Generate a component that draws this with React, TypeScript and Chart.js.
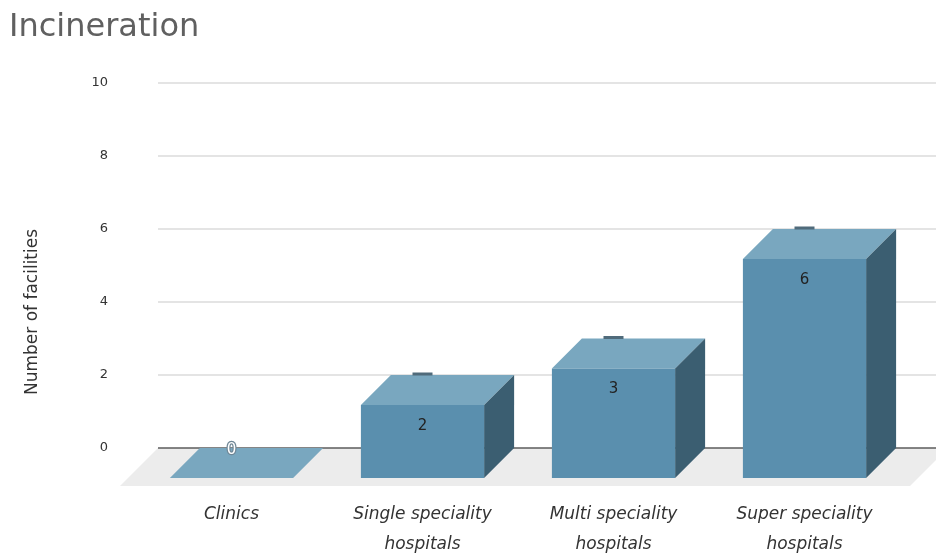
import React, { useEffect, useRef } from "react";
import { Chart, registerables } from "chart.js";

Chart.register(...registerables);

// Chart content
const chartTitle = "Incineration";
const yAxisTitle = "Number of facilities";
const categories: string[][] = [
  ["Clinics"],
  ["Single speciality", "hospitals"],
  ["Multi speciality", "hospitals"],
  ["Super speciality", "hospitals"],
];
const facilityCounts = [0, 2, 3, 6];
const yMin = 0;
const yMax = 10;
const yStep = 2;

// Look of the 3D boxes
const DEPTH = 30;
const FLOOR_DEPTH = 38;
const FONT = "'DejaVu Sans', 'Noto Sans', sans-serif";
const COLORS = {
  front: "#5a8fae",
  top: "#79a7bf",
  side: "#3b5e71",
  floor: "#ececec",
  grid: "#e4e4e4",
  zero: "#5c5c5c",
  mark: "#506b7b",
  title: "#606060",
  text: "#333333",
  label: "#222222",
};

const boxes3d = {
  id: "boxes3d",
  beforeDatasetsDraw(chart: any) {
    const { ctx, chartArea } = chart;
    const yScale = chart.scales.y;
    const zero = yScale.getPixelForValue(0);
    const wallLeft = chartArea.left - 8;
    ctx.save();

    // back wall grid lines
    ctx.strokeStyle = COLORS.grid;
    ctx.lineWidth = 2;
    yScale.ticks.forEach((t: any) => {
      if (t.value === 0) return;
      const py = Math.round(yScale.getPixelForValue(t.value));
      ctx.beginPath();
      ctx.moveTo(wallLeft, py);
      ctx.lineTo(chart.width, py);
      ctx.stroke();
    });

    // floor
    ctx.fillStyle = COLORS.floor;
    ctx.beginPath();
    ctx.moveTo(wallLeft, zero);
    ctx.lineTo(chartArea.right + 18, zero);
    ctx.lineTo(chartArea.right + 18 - FLOOR_DEPTH, zero + FLOOR_DEPTH);
    ctx.lineTo(wallLeft - FLOOR_DEPTH, zero + FLOOR_DEPTH);
    ctx.closePath();
    ctx.fill();

    // zero line on the back wall
    ctx.strokeStyle = COLORS.zero;
    ctx.lineWidth = 1.5;
    ctx.beginPath();
    ctx.moveTo(wallLeft, zero);
    ctx.lineTo(chart.width, zero);
    ctx.stroke();

    const meta = chart.getDatasetMeta(0);
    meta.data.forEach((bar: any, i: number) => {
      const { x, y, width } = bar.getProps(["x", "y", "width"], true);
      const half = width / 2;
      const fx = x - DEPTH;
      const fl = fx - half;
      const fr = fx + half;
      const fTop = y + DEPTH;
      const fBot = zero + DEPTH;

      // top face
      ctx.fillStyle = COLORS.top;
      ctx.beginPath();
      ctx.moveTo(fl, fTop);
      ctx.lineTo(fr, fTop);
      ctx.lineTo(fr + DEPTH, y);
      ctx.lineTo(fl + DEPTH, y);
      ctx.closePath();
      ctx.fill();

      if (facilityCounts[i] > 0) {
        // right side face
        ctx.fillStyle = COLORS.side;
        ctx.beginPath();
        ctx.moveTo(fr, fTop);
        ctx.lineTo(fr + DEPTH, y);
        ctx.lineTo(fr + DEPTH, zero);
        ctx.lineTo(fr, fBot);
        ctx.closePath();
        ctx.fill();

        // front face
        ctx.fillStyle = COLORS.front;
        ctx.fillRect(fl, fTop, width, fBot - fTop);

        // small marker at the back edge of the top face
        ctx.fillStyle = COLORS.mark;
        ctx.fillRect(fx - 10, y - 2.5, 20, 3);
      }
    });
    ctx.restore();
  },
  afterDatasetsDraw(chart: any) {
    const { ctx } = chart;
    const yScale = chart.scales.y;
    const zero = yScale.getPixelForValue(0);
    const meta = chart.getDatasetMeta(0);
    ctx.save();
    ctx.textAlign = "center";
    ctx.textBaseline = "middle";
    ctx.font = `15px ${FONT}`;
    meta.data.forEach((bar: any, i: number) => {
      const { x, y } = bar.getProps(["x", "y"], true);
      const fx = x - DEPTH;
      const text = String(facilityCounts[i]);
      if (facilityCounts[i] > 0) {
        ctx.fillStyle = COLORS.label;
        ctx.fillText(text, fx, y + DEPTH + 21);
      } else {
        ctx.lineWidth = 2.5;
        ctx.strokeStyle = "#6f8796";
        ctx.strokeText(text, fx, zero + 2);
        ctx.fillStyle = "#ffffff";
        ctx.fillText(text, fx, zero + 2);
      }
    });

    // chart title
    ctx.textAlign = "left";
    ctx.fillStyle = COLORS.title;
    ctx.font = `32px ${FONT}`;
    ctx.fillText(chartTitle, 9, 28);

    // value axis title
    ctx.save();
    ctx.translate(33, 312);
    ctx.rotate(-Math.PI / 2);
    ctx.textAlign = "center";
    ctx.fillStyle = COLORS.text;
    ctx.font = `17px ${FONT}`;
    ctx.fillText(yAxisTitle, 0, 0);
    ctx.restore();

    ctx.restore();
  },
};

export default function App() {
  const canvasRef = useRef<HTMLCanvasElement | null>(null);

  useEffect(() => {
    if (!canvasRef.current) return;
    const chart = new Chart(canvasRef.current, {
      type: "bar",
      data: {
        labels: categories,
        datasets: [
          {
            data: facilityCounts,
            backgroundColor: "rgba(0,0,0,0)",
            borderWidth: 0,
            categoryPercentage: 1,
            barPercentage: 0.645,
          },
        ],
      },
      options: {
        animation: false,
        responsive: true,
        maintainAspectRatio: false,
        layout: { padding: { left: 10, right: 6, top: 83, bottom: 0 } },
        plugins: {
          legend: { display: false },
          title: { display: false },
          tooltip: { enabled: false },
        },
        scales: {
          x: {
            grid: { display: false, drawTicks: false },
            border: { display: false },
            ticks: {
              padding: 52,
              labelOffset: -DEPTH,
              autoSkip: false,
              maxRotation: 0,
              minRotation: 0,
              color: COLORS.text,
              font: { family: FONT, size: 17, style: "italic", lineHeight: "30px" },
            },
            afterFit: (scale: any) => {
              scale.height = 106;
              scale.paddingLeft = 0;
              scale.paddingRight = 0;
            },
          },
          y: {
            min: yMin,
            max: yMax,
            grid: { display: false, drawTicks: false },
            border: { display: false },
            ticks: {
              stepSize: yStep,
              padding: 58,
              color: COLORS.text,
              font: { family: FONT, size: 13 },
            },
            afterFit: (scale: any) => {
              scale.width = 156;
              scale.paddingTop = 0;
              scale.paddingBottom = 0;
            },
          },
        },
      },
      plugins: [boxes3d],
    });
    return () => chart.destroy();
  }, []);

  return (
    <div style={{ position: "fixed", left: 0, top: 0, width: 936, height: 554, background: "#ffffff" }}>
      <canvas ref={canvasRef} />
    </div>
  );
}
